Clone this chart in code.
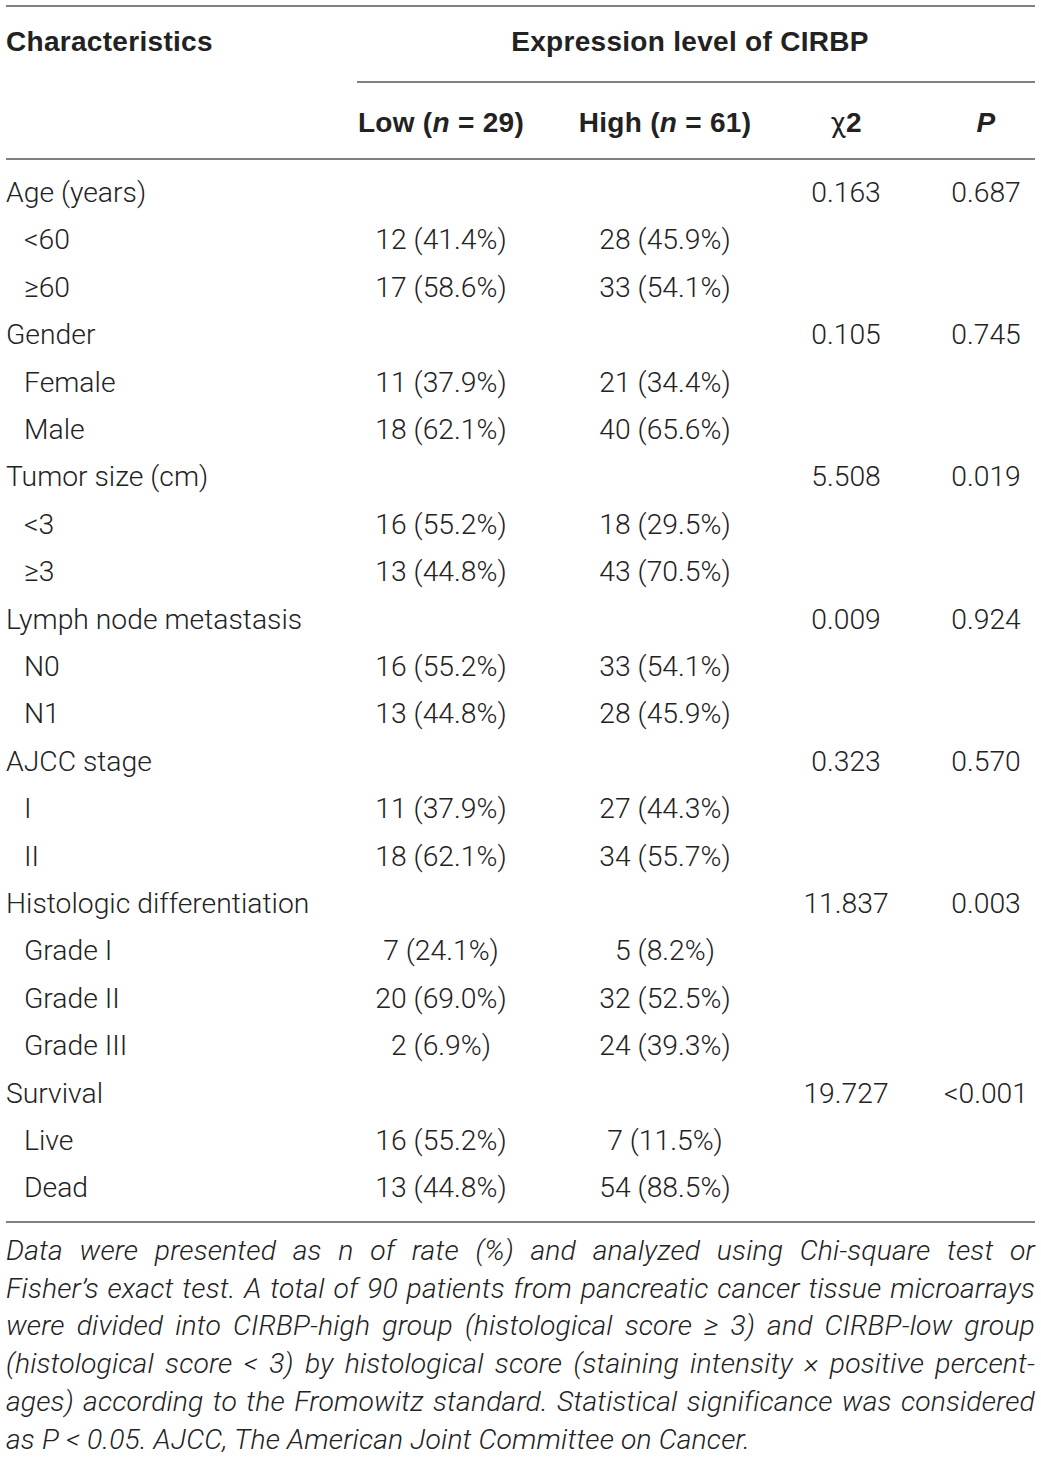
<!DOCTYPE html>
<html>
<head>
<meta charset="utf-8">
<script src="https://cdn.jsdelivr.net/npm/chart.js@4.4.1/dist/chart.umd.min.js"></script>
<style>
  html, body { margin: 0; padding: 0; background: #fff; }
  body { width: 1041px; height: 1457px; position: relative; overflow: hidden;
         font-family: Roboto, "Liberation Sans", sans-serif; font-weight: 300; color: #222; font-size: 28.3px; }
  .rule { position: absolute; height: 1.5px; background: #808080; }
  .cell { position: absolute; white-space: nowrap; height: 48px; line-height: 48px; }
  .c { text-align: center; width: 400px; }
  .b { font-family: "Liberation Sans", Arial, sans-serif; font-weight: bold; color: #222; font-size: 28px; letter-spacing: 0.3px; }
  .chi { font-family: Roboto, sans-serif; font-weight: 400; }
  .note { position: absolute; left: 6px; top: 1232px; width: 1029px;
          font-style: italic; font-size: 28.3px; letter-spacing: 0.15px; line-height: 37.7px; color: #222; }
  .note div { text-align: justify; text-align-last: justify; white-space: nowrap; }
  .note div.last { text-align-last: left; }
</style>
</head>
<body>
<div id="table"></div>
<script>
// table content
const groups = ['Age (years)', 'Gender', 'Tumor size (cm)', 'Lymph node metastasis', 'AJCC stage', 'Histologic differentiation', 'Survival'];
const chi2 = ['0.163', '0.105', '5.508', '0.009', '0.323', '11.837', '19.727'];
const pValues = ['0.687', '0.745', '0.019', '0.924', '0.570', '0.003', '<0.001'];
const subgroups = [['<60', '≥60'], ['Female', 'Male'], ['<3', '≥3'], ['N0', 'N1'], ['I', 'II'], ['Grade I', 'Grade II', 'Grade III'], ['Live', 'Dead']];
const lowN = [[12, 17], [11, 18], [16, 13], [16, 13], [11, 18], [7, 20, 2], [16, 13]];
const lowPct = [['41.4', '58.6'], ['37.9', '62.1'], ['55.2', '44.8'], ['55.2', '44.8'], ['37.9', '62.1'], ['24.1', '69.0', '6.9'], ['55.2', '44.8']];
const highN = [[28, 33], [21, 40], [18, 43], [33, 28], [27, 34], [5, 32, 24], [7, 54]];
const highPct = [['45.9', '54.1'], ['34.4', '65.6'], ['29.5', '70.5'], ['54.1', '45.9'], ['44.3', '55.7'], ['8.2', '52.5', '39.3'], ['11.5', '88.5']];
const noteLines = [
  'Data were presented as n of rate (%) and analyzed using Chi-square test or',
  'Fisher’s exact test. A total of 90 patients from pancreatic cancer tissue microarrays',
  'were divided into CIRBP-high group (histological score ≥ 3) and CIRBP-low group',
  '(histological score < 3) by histological score (staining intensity × positive percent-',
  'ages) according to the Fromowitz standard. Statistical significance was considered',
  'as P < 0.05. AJCC, The American Joint Committee on Cancer.'
];

const $table = document.getElementById('table');
const colX = { low: 441, high: 665, chi: 846, p: 986 };

function addCell(text, left, centerY, cls, html) {
  const el = document.createElement('div');
  el.className = 'cell ' + (cls || '');
  if (cls && cls.split(' ').includes('c')) el.style.left = (left - 200) + 'px';
  else el.style.left = left + 'px';
  el.style.top = (centerY - 24) + 'px';
  if (html) el.innerHTML = text; else el.textContent = text;
  $table.appendChild(el);
}

function addRule(left, width, y) {
  const el = document.createElement('div');
  el.className = 'rule';
  el.style.left = left + 'px';
  el.style.width = width + 'px';
  el.style.top = y + 'px';
  $table.appendChild(el);
}

// 罫線
addRule(6, 1029, 5);
addRule(357, 678, 81);
addRule(6, 1029, 158);
addRule(6, 1029, 1221);

// ヘッダー
addCell('Characteristics', 6, 42, 'b');
addCell('Expression level of CIRBP', 690, 42, 'c b');
addCell('Low (<i>n</i> = 29)', colX.low, 123, 'c b', true);
addCell('High (<i>n</i> = 61)', colX.high, 123, 'c b', true);
addCell('<span class="chi">χ</span>2', colX.chi, 123, 'c b', true);
addCell('<i>P</i>', colX.p, 123, 'c b', true);

// 本文
let row = 0;
const rowY = i => 193 + 47.4 * i;
groups.forEach((g, gi) => {
  addCell(g, 6, rowY(row));
  addCell(chi2[gi], colX.chi, rowY(row), 'c');
  addCell(pValues[gi], colX.p, rowY(row), 'c');
  row++;
  subgroups[gi].forEach((s, si) => {
    addCell(s, 24, rowY(row));
    addCell(`${lowN[gi][si]} (${lowPct[gi][si]}%)`, colX.low, rowY(row), 'c');
    addCell(`${highN[gi][si]} (${highPct[gi][si]}%)`, colX.high, rowY(row), 'c');
    row++;
  });
});

// 注記
const $note = document.createElement('div');
$note.className = 'note';
noteLines.forEach((line, i) => {
  const d = document.createElement('div');
  if (i === noteLines.length - 1) d.className = 'last';
  d.textContent = line;
  $note.appendChild(d);
});
$table.appendChild($note);
</script>
</body>
</html>
